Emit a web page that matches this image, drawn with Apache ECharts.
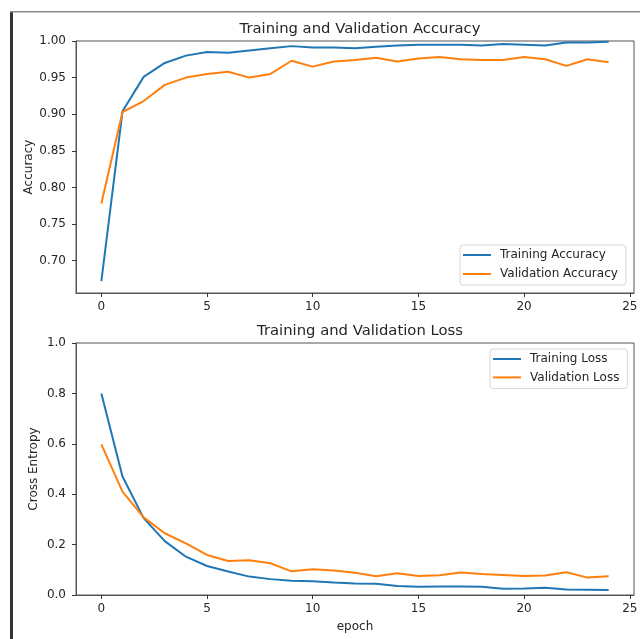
<!DOCTYPE html>
<html><head><meta charset="utf-8">
<script src="https://cdn.jsdelivr.net/npm/echarts@6/dist/echarts.min.js"></script>
<style>html,body{margin:0;padding:0;background:#fff}#c{width:640px;height:639px}</style>
</head><body><div id="c"></div>
<script>
const epochs = [0,1,2,3,4,5,6,7,8,9,10,11,12,13,14,15,16,17,18,19,20,21,22,23,24];
const trainAcc = [0.672,0.904,0.951,0.970,0.980,0.985,0.984,0.987,0.990,0.993,0.991,0.991,0.990,0.992,0.994,0.995,0.995,0.995,0.994,0.996,0.995,0.994,0.998,0.998,0.999];
const valAcc = [0.778,0.903,0.918,0.940,0.950,0.955,0.958,0.950,0.955,0.973,0.965,0.972,0.974,0.977,0.972,0.976,0.978,0.975,0.974,0.974,0.978,0.975,0.966,0.975,0.971];
const trainLoss = [0.800,0.470,0.305,0.214,0.152,0.115,0.093,0.073,0.063,0.057,0.055,0.050,0.046,0.045,0.036,0.033,0.034,0.034,0.033,0.025,0.026,0.029,0.022,0.021,0.020];
const valLoss = [0.598,0.410,0.308,0.245,0.205,0.159,0.135,0.138,0.126,0.094,0.102,0.097,0.088,0.074,0.086,0.075,0.078,0.089,0.083,0.079,0.075,0.077,0.090,0.069,0.074];
const xTicks = [0,5,10,15,20,25];
const accTicks = [0.70,0.75,0.80,0.85,0.90,0.95,1.00];
const lossTicks = [0.0,0.2,0.4,0.6,0.8,1.0];

const pairs = (ys) => epochs.map((e,i)=>[e, ys[i]]);
const FONT = 'DejaVu Sans';
const BLUE = '#1f77b4', ORANGE = '#ff7f0e';
const SPINE = '#555';

const chart = echarts.init(document.getElementById('c'), null, {renderer:'canvas'});

function xAxis(gi, name) {
  return {
    type:'value', gridIndex:gi, min:-1.2, max:25.2,
    axisLine:{show:true, onZero:false, lineStyle:{color:SPINE, width:1}},
    axisTick:{show:true, length:4, customValues:xTicks, lineStyle:{color:'#333', width:1}},
    axisLabel:{customValues:xTicks, margin:8, color:'#262626', fontFamily:FONT, fontSize:12},
    splitLine:{show:false},
    name:name, nameLocation:'middle', nameGap:26, nameMoveOverlap:false,
    nameTextStyle:{color:'#262626', fontFamily:FONT, fontSize:12}
  };
}
function yAxis(gi, min, max, ticks, dec, name, gap) {
  return {
    type:'value', gridIndex:gi, min:min, max:max,
    axisLine:{show:true, onZero:false, lineStyle:{color:SPINE, width:1}},
    axisTick:{show:true, length:4, customValues:ticks, lineStyle:{color:'#333', width:1}},
    axisLabel:{customValues:ticks, margin:10, color:'#262626', fontFamily:FONT, fontSize:12,
      formatter:(v)=>Number(v).toFixed(dec)},
    splitLine:{show:false},
    name:name, nameLocation:'middle', nameGap:gap, nameMoveOverlap:false,
    nameTextStyle:{color:'#262626', fontFamily:FONT, fontSize:12}
  };
}
function legend(data, left, top, lh, gap) {
  return {
    data:data, orient:'vertical', left:left, top:top,
    icon:'rect', itemWidth:28, itemHeight:2, itemGap:gap,
    padding:[3,8,4,3],
    backgroundColor:'rgba(255,255,255,0.85)',
    borderColor:'#d6d6d6', borderWidth:1, borderRadius:3,
    textStyle:{color:'#262626', fontFamily:FONT, fontSize:12, lineHeight:lh, padding:[0,0,0,4]}
  };
}
const lineS = (name, data, color, xi, yi) => ({
  name:name, type:'line', xAxisIndex:xi, yAxisIndex:yi, data:data,
  showSymbol:false, symbol:'none', smooth:false,
  lineStyle:{color:color, width:2}, itemStyle:{color:color},
  emphasis:{disabled:true}, animation:false, z:3
});

chart.setOption({
  backgroundColor:'#fff',
  animation:false,
  title:[
    {text:'Training and Validation Accuracy', left:355, top:17, textAlign:'center',
      textStyle:{fontFamily:FONT, fontSize:14.8, fontWeight:'normal', color:'#262626'}},
    {text:'Training and Validation Loss', left:355, top:319, textAlign:'center',
      textStyle:{fontFamily:FONT, fontSize:14.8, fontWeight:'normal', color:'#262626'}}
  ],
  grid:[
    {left:76, right:6, top:41, height:252, show:true, borderColor:SPINE, borderWidth:1, backgroundColor:'transparent', outerBoundsMode:'none'},
    {left:76, right:6, top:343, height:252, show:true, borderColor:SPINE, borderWidth:1, backgroundColor:'transparent', outerBoundsMode:'none'}
  ],
  xAxis:[xAxis(0,''), xAxis(1,'epoch')],
  yAxis:[
    yAxis(0, 0.6557, 1.0, accTicks, 2, 'Accuracy', 41),
    yAxis(1, 0, 1.0, lossTicks, 1, 'Cross Entropy', 36)
  ],
  legend:[
    legend(['Training Accuracy','Validation Accuracy'], 460, 245, 14, 5),
    legend(['Training Loss','Validation Loss'], 490, 349, 14, 4.4)
  ],
  series:[
    lineS('Training Accuracy', pairs(trainAcc), BLUE, 0, 0),
    lineS('Validation Accuracy', pairs(valAcc), ORANGE, 0, 0),
    lineS('Training Loss', pairs(trainLoss), BLUE, 1, 1),
    lineS('Validation Loss', pairs(valLoss), ORANGE, 1, 1)
  ],
  graphic:[
    {type:'rect', shape:{x:10, y:11, width:3, height:628}, style:{fill:'#333'}, silent:true},
    {type:'rect', shape:{x:10, y:11, width:630, height:1.5}, style:{fill:'#8a8a8a'}, silent:true}
  ]
});
</script>
</body></html>
